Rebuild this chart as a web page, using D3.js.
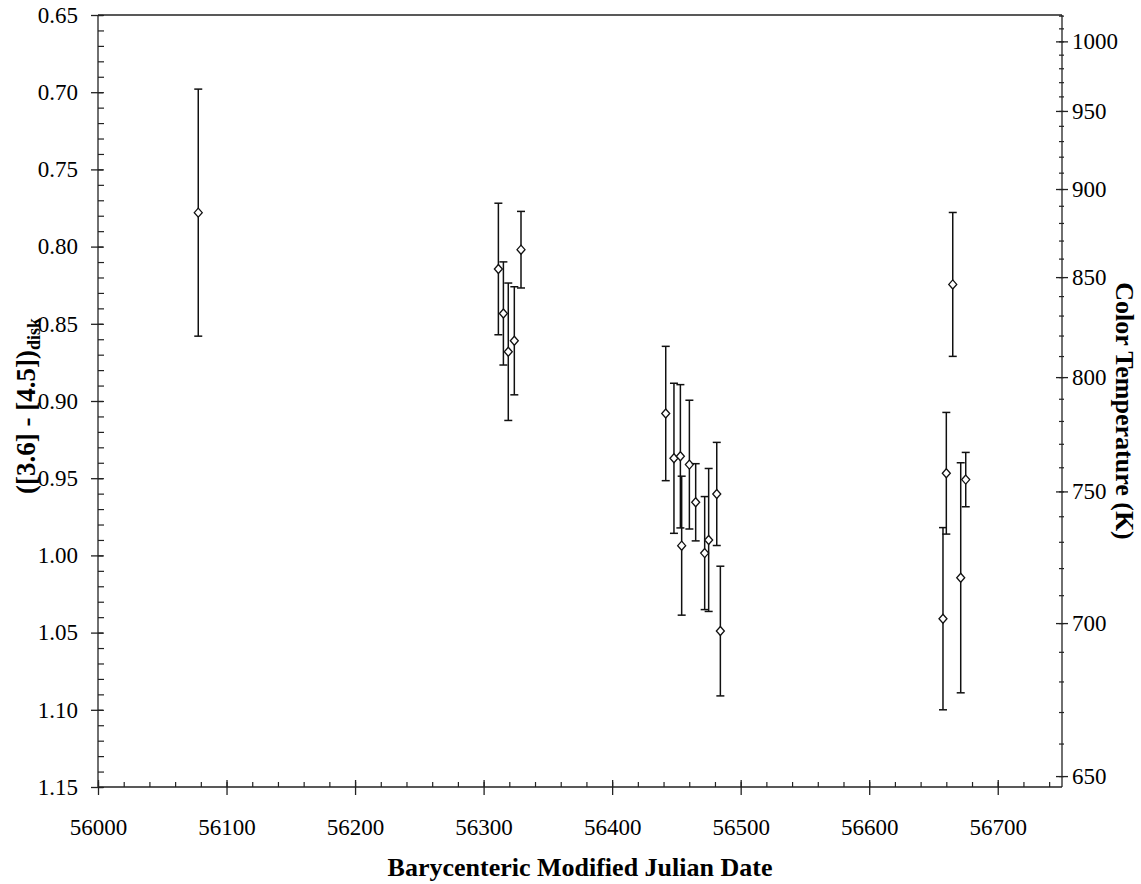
<!DOCTYPE html>
<html>
<head>
<meta charset="utf-8">
<script src="https://cdn.jsdelivr.net/npm/d3@7"></script>
<style>
  body { margin: 0; background: #fff; }
  svg { display: block; }
  svg text { font-family: "Liberation Serif", "Times New Roman", serif; fill: #000; }
</style>
</head>
<body>
<svg id="chart" width="1141" height="884"></svg>
<script>
// Observation epochs (BMJD), disk colour and its 1-sigma uncertainty
const bmjd = [56078.0, 56311.5, 56315.4, 56319.2, 56323.9, 56329.1,
              56441.7, 56448.1, 56453.1, 56454.1, 56460.1, 56465.0,
              56472.0, 56475.1, 56481.4, 56484.2,
              56657.4, 56660.0, 56665.0, 56671.2, 56675.1];
const diskColor = [0.778, 0.8145, 0.8433, 0.8681, 0.8610, 0.8020,
                   0.9081, 0.9371, 0.9358, 0.9937, 0.9412, 0.9656,
                   0.9985, 0.9900, 0.9602, 1.0490,
                   1.0410, 0.9468, 0.8245, 1.0145, 0.9509];
const colorErr = [0.080, 0.0426, 0.0334, 0.0445, 0.0350, 0.0248,
                  0.0435, 0.0486, 0.0464, 0.0450, 0.0417, 0.0250,
                  0.0366, 0.0463, 0.0334, 0.0420,
                  0.0590, 0.0394, 0.0466, 0.0745, 0.0176];

// Axis tick values
const dateTicks = [56000, 56100, 56200, 56300, 56400, 56500, 56600, 56700];
const dateMinorTicks = d3.range(56000, 56751, 20);
const colorTicks = [0.65, 0.70, 0.75, 0.80, 0.85, 0.90, 0.95, 1.00, 1.05, 1.10, 1.15];
const colorMinorTicks = d3.range(65, 116, 1).map(v => v / 100);
const tempTicks = [650, 700, 750, 800, 850, 900, 950, 1000];
const tempMinorTicks = d3.range(650, 1021, 10);

const plot = { left: 98, right: 1062, top: 15, bottom: 787 };
const serif = '"Liberation Serif", "Times New Roman", serif';
const svg = d3.select("#chart");

const x = d3.scaleLinear().domain([56000, 56750]).range([plot.left, plot.right]);
const y = d3.scaleLinear().domain([0.65, 1.15]).range([plot.top, plot.bottom]);

// [3.6]-[4.5] colour of a blackbody at temperature T (Vega zero points)
function blackbodyColor(T) {
  const c2 = 14388;            // hc/k in micron K
  const l1 = 3.55, l2 = 4.49;  // IRAC effective wavelengths (micron)
  const ratio = Math.pow(l1 / l2, 3) * Math.expm1(c2 / (l1 * T)) / Math.expm1(c2 / (l2 * T));
  return 2.5 * Math.log10(ratio) + 2.5 * Math.log10(280.9 / 179.7);
}
// Temperature scale on the right axis, expressed through the colour scale
function tempScale(T) { return y(blackbodyColor(T)); }
tempScale.copy = () => tempScale;
tempScale.range = () => y.range();
tempScale.domain = () => [650, 1020];

const axisColor = "#222";
const labelSize = "23px";

function styleAxis(g) {
  g.attr("font-family", serif).attr("font-size", labelSize);
  g.select(".domain").attr("stroke", axisColor).attr("stroke-width", 1.3);
  g.selectAll(".tick line").attr("stroke", axisColor).attr("stroke-width", 1.3);
  g.selectAll(".tick text").attr("fill", "#000");
}

// Top frame line
svg.append("line")
  .attr("x1", plot.left).attr("x2", plot.right)
  .attr("y1", plot.top).attr("y2", plot.top)
  .attr("stroke", axisColor).attr("stroke-width", 1.3);

// Bottom axis: minor ticks pointing inward, major ticks crossing
svg.append("g").attr("transform", `translate(0,${plot.bottom})`)
  .call(d3.axisBottom(x).tickValues(dateMinorTicks).tickSize(-5).tickSizeOuter(0).tickFormat(""))
  .call(g => { g.select(".domain").remove(); g.selectAll(".tick line").attr("stroke", axisColor).attr("stroke-width", 1.2); });
const gx = svg.append("g").attr("transform", `translate(0,${plot.bottom})`)
  .call(d3.axisBottom(x).tickValues(dateTicks).tickSize(8).tickSizeOuter(0).tickFormat(d3.format("d")))
  .call(styleAxis);
gx.selectAll(".tick line").attr("y1", -7);
gx.selectAll(".tick text").attr("y", 48).attr("dy", null);

// Left axis
svg.append("g").attr("transform", `translate(${plot.left},0)`)
  .call(d3.axisLeft(y).tickValues(colorMinorTicks).tickSize(-6).tickSizeOuter(0).tickFormat(""))
  .call(g => { g.select(".domain").remove(); g.selectAll(".tick line").attr("stroke", axisColor).attr("stroke-width", 1.2); });
const gy = svg.append("g").attr("transform", `translate(${plot.left},0)`)
  .call(d3.axisLeft(y).tickValues(colorTicks).tickSize(7).tickSizeOuter(0).tickFormat(d3.format(".2f")))
  .call(styleAxis);
gy.selectAll(".tick line").attr("x2", -7).attr("x1", 5);
gy.selectAll(".tick text").attr("x", -20);

// Right axis: colour temperature
svg.append("g").attr("transform", `translate(${plot.right},0)`)
  .call(d3.axisRight(tempScale).tickValues(tempMinorTicks).tickSize(2).tickSizeOuter(0).tickFormat(""))
  .call(g => { g.select(".domain").remove(); g.selectAll(".tick line").attr("x1", -3).attr("stroke", axisColor).attr("stroke-width", 1.2); });
const gt = svg.append("g").attr("transform", `translate(${plot.right},0)`)
  .call(d3.axisRight(tempScale).tickValues(tempTicks).tickSize(6).tickSizeOuter(0).tickFormat(d3.format("d")))
  .call(styleAxis);
gt.selectAll(".tick line").attr("x1", -6);
gt.selectAll(".tick text").attr("x", 10);
gt.select(".domain").attr("d", `M0,${plot.top}V${plot.bottom}`);
gy.select(".domain").attr("d", `M0,${plot.top}V${plot.bottom}`);
gx.select(".domain").attr("d", `M${plot.left},0H${plot.right}`);

// Axis titles
svg.append("text")
  .attr("x", (plot.left + plot.right) / 2).attr("y", 876)
  .attr("text-anchor", "middle")
  .attr("font-family", serif)
  .style("font-size", "26px").style("font-weight", "bold")
  .text("Barycenteric Modified Julian Date");

const yTitle = svg.append("text")
  .attr("transform", "translate(35,406) rotate(-90)")
  .attr("text-anchor", "middle")
  .attr("font-family", serif)
  .style("font-size", "27px").style("font-weight", "bold");
yTitle.append("tspan").text("([3.6] - [4.5])");
yTitle.append("tspan").attr("dy", 5).style("font-size", "18px").text("disk");

svg.append("text")
  .attr("transform", "translate(1116,411) rotate(90)")
  .attr("text-anchor", "middle")
  .attr("font-family", serif)
  .style("font-size", "26px").style("font-weight", "bold")
  .text("Color Temperature (K)");

// Data points with error bars
const points = bmjd.map((d, i) => ({ d, c: diskColor[i], e: colorErr[i] }));
const pg = svg.append("g").attr("stroke", "#111").attr("stroke-width", 1.5);
const cap = 4;
const bars = pg.selectAll("g.pt").data(points).join("g").attr("class", "pt");
bars.append("line")
  .attr("x1", p => x(p.d)).attr("x2", p => x(p.d))
  .attr("y1", p => y(p.c - p.e)).attr("y2", p => y(p.c + p.e));
bars.append("line")
  .attr("x1", p => x(p.d) - cap).attr("x2", p => x(p.d) + cap)
  .attr("y1", p => y(p.c - p.e)).attr("y2", p => y(p.c - p.e));
bars.append("line")
  .attr("x1", p => x(p.d) - cap).attr("x2", p => x(p.d) + cap)
  .attr("y1", p => y(p.c + p.e)).attr("y2", p => y(p.c + p.e));
bars.append("path")
  .attr("d", "M0,-4.5L4,0L0,4.5L-4,0Z")
  .attr("transform", p => `translate(${x(p.d)},${y(p.c)})`)
  .attr("fill", "#fff").attr("stroke-width", 1.3);
</script>
</body>
</html>
